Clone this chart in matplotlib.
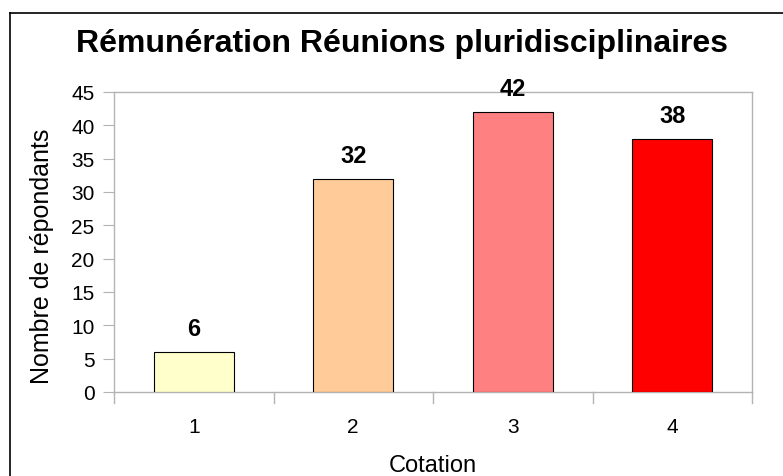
import matplotlib
matplotlib.use('Agg')
import matplotlib.pyplot as plt
from matplotlib.lines import Line2D

plt.rcParams['font.family'] = ['Liberation Sans', 'DejaVu Sans']

categories = ['1', '2', '3', '4']
values = [6, 32, 42, 38]
colors = ['#FFFFCC', '#FFCC99', '#FF8080', '#FF0000']
yticks = [0, 5, 10, 15, 20, 25, 30, 35, 40, 45]

fig = plt.figure(figsize=(7.83, 4.77), dpi=100)
ax = fig.add_axes([114 / 783, 84 / 477, 638 / 783, 300 / 477])

x = range(1, len(categories) + 1)
bars = ax.bar(x, values, width=0.5, color=colors, edgecolor='black', linewidth=0.8, zorder=3)

for xi, v in zip(x, values):
    ax.annotate(str(v), (xi, v), xytext=(0, 8.5), textcoords='offset points',
                ha='center', va='bottom', fontsize=17, fontweight='bold')

ax.set_xlim(0.5, 4.5)
ax.set_ylim(0, 45)
ax.set_yticks(yticks)
ax.set_xticks(list(x))
ax.set_xticklabels(categories, fontsize=15)
ax.tick_params(axis='y', labelsize=15, length=8, color='#b3b3b3', pad=6)
ax.tick_params(axis='x', length=0, pad=18)
# category separators below the axis
for b in [0.5, 1.5, 2.5, 3.5, 4.5]:
    ax.plot([b, b], [0, -1.7], color='#b3b3b3', lw=1, clip_on=False)

for s in ax.spines.values():
    s.set_color('#b3b3b3')
    s.set_linewidth(1)

ax.set_xlabel('Cotation', fontsize=17, labelpad=13)
ax.set_ylabel('Nombre de répondants', fontsize=18, va='center')
ax.yaxis.set_label_coords(-0.113, 0.457)

fig.text(402 / 783, 1 - 44 / 477, 'Rémunération Réunions pluridisciplinaires',
         ha='center', va='center', fontsize=23, fontweight='bold')

# outer frame (left and top edges visible)
fig.add_artist(Line2D([10 / 783, 10 / 783], [0, 1 - 14 / 477], color='black', lw=1.2))
fig.add_artist(Line2D([10 / 783, 1], [1 - 14 / 477, 1 - 14 / 477], color='black', lw=1.2))

fig.savefig('out.png', dpi=100)
